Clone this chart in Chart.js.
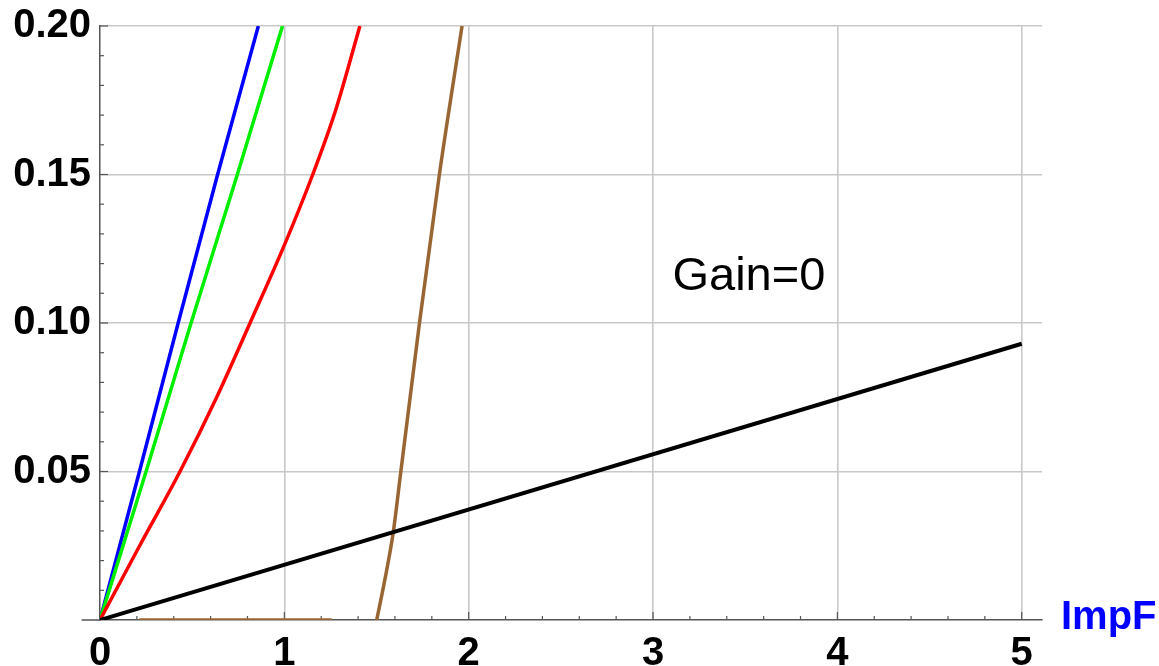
<!DOCTYPE html>
<html>
<head>
<meta charset="utf-8">
<script src="https://cdn.jsdelivr.net/npm/chart.js@4/dist/chart.umd.min.js"></script>
<style>
  html, body { margin:0; padding:0; background:#fff; overflow:hidden; }
  #wrap { width:1159px; height:666px; }
</style>
</head>
<body>
<div id="wrap"><canvas id="rateChart" width="1159" height="666"></canvas></div>
<script>
// values (ImpF on x, rate on y)
const blueX  = [0, 0.214, 0.424, 0.638, 0.859];
const blueY  = [0, 0.05, 0.10, 0.15, 0.20];
const greenX = [0, 0.250, 0.494, 0.745, 0.99];
const greenY = [0, 0.05, 0.10, 0.15, 0.20];
const redX   = [0, 0.215, 0.434, 0.633, 0.814, 1.0, 1.154, 1.28, 1.41];
const redY   = [0, 0.025, 0.05, 0.075, 0.10, 0.1262, 0.15, 0.172, 0.20];
const brownX = [0.213, 1.257, null, 1.501, 1.545, 1.590, 1.632, 1.733, 1.841, 1.964];
const brownY = [0, 0, null, 0, 0.0135, 0.0292, 0.05, 0.10, 0.15, 0.20];
const blackX = [0, 5];
const blackY = [0, 0.093];

const xTicks = [0, 1, 2, 3, 4, 5];
const yTicks = [0.05, 0.10, 0.15, 0.20];
const xMax = 5.11, yMax = 0.2, xAxisStart = -0.1;

const pts = (xs, ys) => xs.map((v, i) => v === null ? {x: null, y: null} : {x: v, y: ys[i]});
const line = (xs, ys, color, w, smooth) => ({
  data: pts(xs, ys), borderColor: color, borderWidth: w, pointRadius: 0,
  fill: false, spanGaps: false,
  tension: smooth ? 0.4 : 0,
  cubicInterpolationMode: smooth ? 'monotone' : 'default'
});

const tickFont = {family: '"Liberation Sans", Arial, sans-serif', size: 40, weight: 'bold'};
const axisGray = '#555';
const gridGray = '#c8c8c8';

// axis extension, inward tick marks and the free text
const axisMarks = {
  id: 'axisMarks',
  beforeDatasetsDraw(chart) {
    const {ctx, scales: {x, y}} = chart;
    const x0 = x.getPixelForValue(0), y0 = y.getPixelForValue(0);
    ctx.save();
    ctx.strokeStyle = axisGray;
    ctx.lineWidth = 1.5;
    ctx.beginPath();
    ctx.moveTo(x.getPixelForValue(xAxisStart), y0);
    ctx.lineTo(x0, y0);
    ctx.stroke();
    ctx.lineWidth = 1.2;
    for (let i = 1; i <= 25; i++) {
      const px = x.getPixelForValue(i / 5);
      const len = i % 5 === 0 ? 8 : 4;
      ctx.beginPath(); ctx.moveTo(px, y0); ctx.lineTo(px, y0 - len); ctx.stroke();
    }
    for (let i = 1; i <= 20; i++) {
      const py = y.getPixelForValue(i / 100);
      const len = i % 5 === 0 ? 8 : 4;
      ctx.beginPath(); ctx.moveTo(x0, py); ctx.lineTo(x0 + len, py); ctx.stroke();
    }
    ctx.restore();
  },
  afterDraw(chart) {
    const {ctx, scales: {x, y}} = chart;
    ctx.save();
    ctx.fillStyle = '#000';
    ctx.font = '47px "Liberation Sans", Arial, sans-serif';
    ctx.textAlign = 'center';
    ctx.textBaseline = 'middle';
    ctx.fillText('Gain=0', x.getPixelForValue(3.52), y.getPixelForValue(0.1155));
    ctx.fillStyle = '#0000ff';
    ctx.font = 'bold 40px "Liberation Sans", Arial, sans-serif';
    ctx.textAlign = 'left';
    ctx.fillText('ImpF', x.right + 19, y.getPixelForValue(0) - 2);
    // axis title sits mostly above the picture, only its foot shows
    ctx.textBaseline = 'alphabetic';
    ctx.globalAlpha = 0.5;
    ctx.fillText('Total Rate', 12, 0);
    ctx.restore();
  }
};

new Chart(document.getElementById('rateChart'), {
  type: 'line',
  data: {
    datasets: [
      line(blackX, blackY, '#000000', 4, false),
      line(brownX, brownY, '#996633', 3.5, true),
      line(redX, redY, '#ff0000', 3.5, true),
      line(greenX, greenY, '#00ee00', 3.5, false),
      line(blueX, blueY, '#0000ff', 3.5, false)
    ]
  },
  options: {
    responsive: false,
    animation: false,
    devicePixelRatio: 1,
    layout: {padding: {top: 26, right: 117, left: 0, bottom: 0}},
    plugins: {legend: {display: false}, tooltip: {enabled: false}},
    scales: {
      x: {
        type: 'linear', min: 0, max: xMax,
        afterFit: s => { s.height = 46; s.paddingLeft = 0; s.paddingRight = 0; },
        afterBuildTicks: s => { s.ticks = xTicks.map(v => ({value: v})); },
        border: {display: true, color: axisGray, width: 1.5},
        grid: {color: c => c.tick && c.tick.value === 0 ? 'rgba(0,0,0,0)' : gridGray, lineWidth: 1.6, drawTicks: false},
        ticks: {padding: 10, color: '#000', font: tickFont, maxRotation: 0, callback: v => String(v)}
      },
      y: {
        type: 'linear', min: 0, max: yMax,
        afterFit: s => { s.width = 100; s.paddingTop = 0; s.paddingBottom = 0; },
        afterBuildTicks: s => { s.ticks = [0].concat(yTicks).map(v => ({value: v})); },
        border: {display: true, color: axisGray, width: 1.5},
        grid: {color: c => c.tick && c.tick.value === 0 ? 'rgba(0,0,0,0)' : gridGray, lineWidth: 1.6, drawTicks: false},
        ticks: {padding: 9, color: '#000', font: tickFont, callback: v => v === 0 ? '' : v.toFixed(2)}
      }
    }
  },
  plugins: [axisMarks]
});
</script>
</body>
</html>
